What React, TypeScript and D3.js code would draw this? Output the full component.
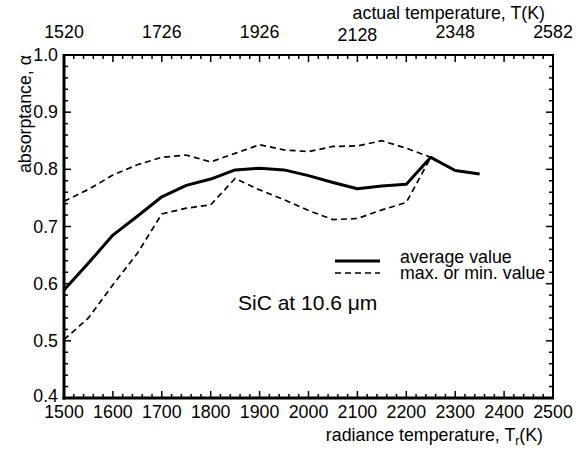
import React from "react";
import * as d3 from "d3";

const radianceTemps = [1500, 1550, 1600, 1650, 1700, 1750, 1800, 1850, 1900, 1950, 2000, 2050, 2100, 2150, 2200, 2250, 2300, 2350];
const averageValues = [0.589, 0.636, 0.685, 0.718, 0.752, 0.772, 0.783, 0.799, 0.802, 0.799, 0.789, 0.777, 0.766, 0.771, 0.774, 0.821, 0.798, 0.792];
const extremeTemps = [1500, 1550, 1600, 1650, 1700, 1750, 1800, 1850, 1900, 1950, 2000, 2050, 2100, 2150, 2200, 2250];
const maxValues = [0.744, 0.765, 0.79, 0.808, 0.821, 0.825, 0.813, 0.828, 0.843, 0.834, 0.831, 0.84, 0.841, 0.85, 0.837, 0.821];
const minValues = [0.502, 0.54, 0.598, 0.653, 0.722, 0.732, 0.738, 0.784, 0.764, 0.747, 0.728, 0.712, 0.714, 0.729, 0.742, 0.821];
const bottomTicks = [1500, 1600, 1700, 1800, 1900, 2000, 2100, 2200, 2300, 2400, 2500];
const yTicks = [0.4, 0.5, 0.6, 0.7, 0.8, 0.9, 1.0];
const topTickPositions = [1500, 1700, 1900, 2100, 2300, 2500];
const topTickLabels = ["1520", "1726", "1926", "2128", "2348", "2582"];

const FONT = "'Liberation Sans', Arial, Helvetica, sans-serif";

export default function App() {
  const W = 580, H = 450;
  const left = 64, right = 553, top = 55, bottom = 398;
  const x = d3.scaleLinear().domain([1500, 2500]).range([left, right]);
  const y = d3.scaleLinear().domain([0.4, 1.0]).range([bottom, top]);

  const line = d3
    .line<[number, number]>()
    .x((d) => x(d[0]))
    .y((d) => y(d[1]));

  const avgPath = line(radianceTemps.map((t, i) => [t, averageValues[i]]));
  const maxPath = line(extremeTemps.map((t, i) => [t, maxValues[i]]));
  const minPath = line(extremeTemps.map((t, i) => [t, minValues[i]]));

  const xMinor = d3.range(1500, 2501, 20);
  const yMinor = d3.range(0, 31).map((i) => 0.4 + i * 0.02);
  const isXMajor = (v: number) => Math.abs(v % 100) < 1e-6;
  const isYMajor = (v: number) => Math.abs(Math.round(v * 10) - v * 10) < 1e-6;

  const majorLen = 7;
  const minorLen = 4;
  const fs = 17.8;

  return (
    <svg
      width={W}
      height={H}
      style={{ position: "absolute", left: 0, top: 0, background: "#fff" }}
      fontFamily={FONT}
    >
      <rect x={0} y={0} width={W} height={H} fill="#fff" />
      {xMinor.map((v) => {
        const len = isXMajor(v) ? majorLen : minorLen;
        return (
          <g key={"xt" + v}>
            <line x1={x(v)} x2={x(v)} y1={bottom} y2={bottom - len} stroke="#000" strokeWidth={1.5} />
            <line x1={x(v)} x2={x(v)} y1={top} y2={top + len} stroke="#000" strokeWidth={1.5} />
          </g>
        );
      })}
      {yMinor.map((v) => {
        const len = isYMajor(v) ? majorLen : minorLen;
        return (
          <g key={"yt" + v.toFixed(2)}>
            <line x1={left} x2={left + len} y1={y(v)} y2={y(v)} stroke="#000" strokeWidth={1.5} />
            <line x1={right} x2={right - len} y1={y(v)} y2={y(v)} stroke="#000" strokeWidth={1.5} />
          </g>
        );
      })}
      <line x1={left} x2={right + 1} y1={top} y2={top} stroke="#000" strokeWidth={2} />
      <line x1={right} x2={right} y1={top} y2={bottom} stroke="#000" strokeWidth={2} />
      <line x1={left - 1.5} x2={right + 1} y1={bottom} y2={bottom} stroke="#000" strokeWidth={3} />
      <line x1={left} x2={left} y1={top - 1} y2={bottom + 1.5} stroke="#000" strokeWidth={3} />

      {bottomTicks.map((v) => (
        <text key={"bl" + v} x={x(v)} y={418} textAnchor="middle" fontSize={fs} fill="#000">
          {v}
        </text>
      ))}
      {topTickPositions.map((v, i) => (
        <text
          key={"tl" + v}
          x={x(v)}
          y={topTickLabels[i] === "2128" ? 41 : 38}
          textAnchor="middle"
          fontSize={fs}
          fill="#000"
        >
          {topTickLabels[i]}
        </text>
      ))}
      {yTicks.map((v) => (
        <text key={"yl" + v} x={58} y={y(v) + (v === 0.4 ? 4 : 6)} textAnchor="end" fontSize={fs} fill="#000">
          {v.toFixed(1)}
        </text>
      ))}

      <text x={545} y={19} textAnchor="end" fontSize={fs} fill="#000">
        actual temperature, T(K)
      </text>
      <text x={543} y={441} textAnchor="end" fontSize={fs} fill="#000">
        radiance temperature, T<tspan fontSize={12} dy={4}>r</tspan>
        <tspan dy={-4}>(K)</tspan>
      </text>
      <text transform={`translate(31,114) rotate(-90)`} textAnchor="middle" fontSize={fs} fill="#000">
        absorptance, α
      </text>

      <path d={maxPath ?? ""} fill="none" stroke="#000" strokeWidth={1.7} strokeDasharray="6,4" />
      <path d={minPath ?? ""} fill="none" stroke="#000" strokeWidth={1.7} strokeDasharray="6,4" />
      <path d={avgPath ?? ""} fill="none" stroke="#000" strokeWidth={3} strokeLinejoin="round" />

      <line x1={335} x2={380} y1={261} y2={261} stroke="#000" strokeWidth={3} />
      <line x1={335} x2={380} y1={273} y2={273} stroke="#000" strokeWidth={1.7} strokeDasharray="6,4" />
      <text x={400} y={263} fontSize={fs} fill="#000">average value</text>
      <text x={400} y={279} fontSize={fs} fill="#000">max. or min. value</text>

      <text x={238} y={310} fontSize={21} fill="#000">SiC at 10.6 μm</text>
    </svg>
  );
}
